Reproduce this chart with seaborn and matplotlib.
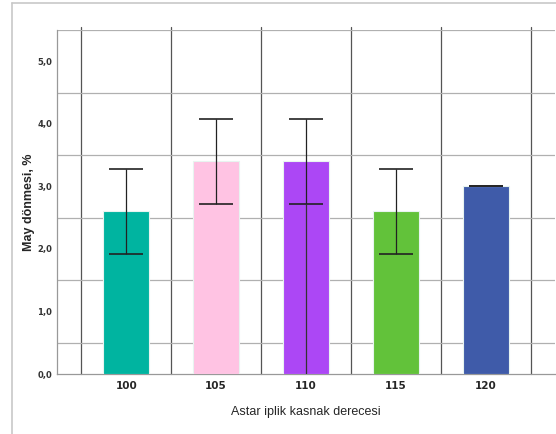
import numpy as np
import pandas as pd
import matplotlib
matplotlib.use("Agg")
import matplotlib.pyplot as plt
from matplotlib.lines import Line2D
from matplotlib.ticker import FuncFormatter, MultipleLocator
import seaborn as sns

# veriler
dereceler = ["100", "105", "110", "115", "120"]
may_donmesi = [2.6, 3.4, 3.4, 2.6, 3.0]
hata = [0.68, 0.68, 0.68, 0.68, 0.0]
renkler = ["#00b4a0", "#ffc3e3", "#ac47f5", "#62c23a", "#3f5ba9"]

df = pd.DataFrame({"derece": dereceler, "may": may_donmesi})

sns.set_style("white")
fig = plt.figure(figsize=(5.56, 4.34), dpi=100)
ax = fig.add_axes([0.1025, 0.138, 0.8955, 0.793])

sns.barplot(data=df, x="derece", y="may", hue="derece", palette=renkler,
            legend=False, width=0.51, edgecolor="#e8f4f0", linewidth=0.8,
            saturation=1, errorbar=None, ax=ax, zorder=3)

xs = np.arange(len(dereceler))
ax.errorbar(xs, may_donmesi, yerr=hata, fmt="none", ecolor="#222222",
            elinewidth=0.9, capsize=12, capthick=1.2, zorder=4)
# 110 cubugunda alt hata cizgisi tabana kadar iniyor
alt = np.array(may_donmesi) - np.array(hata)
ax.vlines(xs[2], 0, alt[2], color="#333333", linewidth=0.9, zorder=4)

# izgara
for v in np.arange(-0.5, len(dereceler), 1.0):
    ax.axvline(v, ymax=1.01, color="#555555", linewidth=0.9, zorder=1,
               clip_on=False)
for h in np.arange(0.5, 5.6, 1.0):
    ax.axhline(h, color="#b0b0b0", linewidth=0.9, zorder=1)

ax.set_xlim(-0.77, 4.77)
ax.set_ylim(0, 5.5)
ax.yaxis.set_major_locator(MultipleLocator(1.0))
ax.yaxis.set_major_formatter(FuncFormatter(lambda v, p: f"{v:.1f}".replace(".", ",")))

for s in ["top", "right"]:
    ax.spines[s].set_visible(False)
for s in ["left", "bottom"]:
    ax.spines[s].set_color("#999999")
    ax.spines[s].set_linewidth(0.9)

ax.tick_params(axis="y", length=0, labelsize=6, pad=3.5)
ax.tick_params(axis="x", length=0, labelsize=7.5, pad=5)
for t in ax.get_xticklabels():
    t.set_fontweight("semibold")
for t in ax.get_yticklabels():
    t.set_fontfamily("Liberation Sans Narrow")
    t.set_fontweight("bold")
    t.set_color("#333333")

ax.set_xlabel("Astar iplik kasnak derecesi", fontsize=9, labelpad=11,
              fontfamily="Liberation Sans")
ax.set_ylabel("May dönmesi, %", fontsize=9, fontweight="bold",
              fontfamily="Liberation Sans")
ax.yaxis.set_label_coords(-0.044, 0.5)

# dis cerceve
fig.add_artist(Line2D([0.0216, 0.0216], [0, 0.993], color="#c8c8c8",
                      linewidth=1.2, transform=fig.transFigure))
fig.add_artist(Line2D([0.0216, 1.0], [0.993, 0.993], color="#c8c8c8",
                      linewidth=1.2, transform=fig.transFigure))

fig.savefig("out.png", dpi=100)
